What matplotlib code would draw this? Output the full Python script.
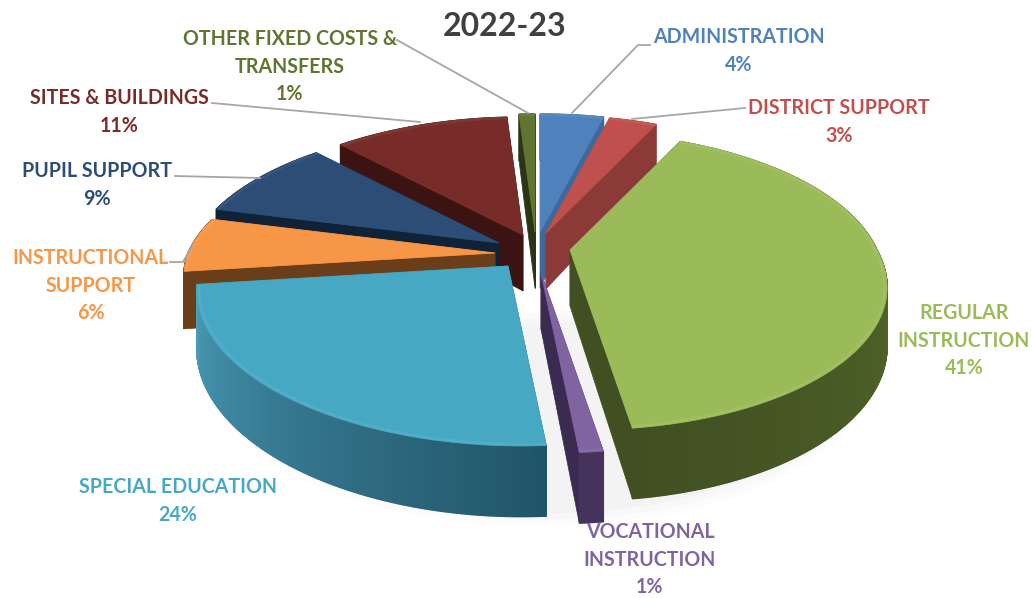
import numpy as np
import matplotlib
matplotlib.use('Agg')
import matplotlib.pyplot as plt
from matplotlib.patches import Polygon

plt.rcParams['font.family'] = ['Lato', 'DejaVu Sans']

# chart data, clockwise from the top
categories = ['ADMINISTRATION', 'DISTRICT SUPPORT', 'REGULAR\nINSTRUCTION', 'VOCATIONAL\nINSTRUCTION',
              'SPECIAL EDUCATION', 'INSTRUCTIONAL\nSUPPORT', 'PUPIL SUPPORT', 'SITES & BUILDINGS',
              'OTHER FIXED COSTS &\nTRANSFERS']
shares = [4, 3, 41, 1, 24, 6, 9, 11, 1]
title = '2022-23'

# styles and layout
top_colors = ['#4f81bd', '#c0504d', '#9bbb59', '#8064a2', '#47a8c4', '#f79646', '#2c4d75', '#772c2a', '#5f7530']
wall_colors = ['#3d6a9b', '#8c3a38', '#414f22', '#3b2b50', '#215468', '#6b3e1a', '#0f2238', '#3a1312', '#2b3516']
side_start = ['#3d6a9b', '#8c3a38', '#5d7a30', '#46335c', '#215468', '#6b3e1a', '#0f2238', '#3a1312', '#2b3516']
side_end = ['#3d6a9b', '#8c3a38', '#414f22', '#46335c', '#4a9db8', '#6b3e1a', '#0f2238', '#3a1312', '#2b3516']
text_colors = ['#4f81bd', '#c0504d', '#9bbb59', '#8064a2', '#47a8c4', '#f79646', '#2c4d75', '#772c2a', '#5f7530']
apex = [(540, 232), (546, 233), (570, 250), (541, 273), (508, 266), (495, 253), (499, 243), (523, 235), (535, 232)]
label_pos = [(739, 35), (839, 106), (964, 311), (650, 530), (178, 485), (91, 256), (97, 169), (119, 96), (290, 37)]
draw_order = [7, 8, 0, 6, 1, 5, 2, 3, 4]
leaders = [[(572, 113), (638, 45), (650, 45)],
           [(632, 119), (745, 108)],
           [(175, 176), (260, 178)],
           [(212, 103), (420, 122)],
           [(397, 40), (528, 113)],
           [(170, 262), (183, 262), (192, 246)]]

RX, RY, PERSP, DEPTH, SKEW = 307, 142.5, 0.208, 56, 14


def project(i, theta, r=1.0, z=0.0):
    # flat disc seen in perspective, z runs down the side of the pie
    x = r * np.sin(theta)
    y = r * np.cos(theta)
    w = 1 / (1 + PERSP * y)
    return apex[i][0] + RX * x * w + SKEW * max(-y, 0), apex[i][1] - RY * y * w + DEPTH * z * w


def mix(c1, c2, t):
    a = np.array(matplotlib.colors.to_rgb(c1))
    b = np.array(matplotlib.colors.to_rgb(c2))
    return tuple(a + (b - a) * t)


fig = plt.figure(figsize=(10.32, 5.98), dpi=100)
ax = fig.add_axes([0, 0, 1, 1])
ax.set_xlim(0, 1032)
ax.set_ylim(598, 0)
ax.axis('off')

edges = np.radians(np.concatenate([[0], np.cumsum(shares)]) / sum(shares) * 360)

# soft shadow under the whole pie
for grow, al in [(14, 0.025), (9, 0.03), (4, 0.04)]:
    th = np.linspace(np.pi * 0.4, np.pi * 1.5, 80)
    xs = [540 + (RX + grow) * np.sin(t) / (1 + PERSP * np.cos(t)) for t in th]
    ys = [262 - RY * np.cos(t) / (1 + PERSP * np.cos(t)) + (DEPTH + grow) * 1.2 for t in th]
    ax.add_patch(Polygon(np.column_stack([xs, ys]), closed=True, fc='#808080', ec='none', alpha=al, zorder=1))

z = 2
for i in draw_order:
    t1, t2 = edges[i], edges[i + 1]
    arc = np.linspace(t1, t2, max(int(np.degrees(t2 - t1)) * 3, 4) + 1)

    # the two cut faces
    for t in (t1, t2):
        wall = [project(i, t, 0), project(i, t, 1), project(i, t, 1, 1), project(i, t, 0, 1)]
        ax.add_patch(Polygon(wall, closed=True, fc=wall_colors[i], ec=wall_colors[i], lw=0.5, zorder=z))
    z += 1

    # rim, one small quad per step so the shade can change along it
    for k in range(len(arc) - 1):
        f = k / max(len(arc) - 2, 1)
        quad = [project(i, arc[k]), project(i, arc[k + 1]), project(i, arc[k + 1], 1, 1), project(i, arc[k], 1, 1)]
        c = mix(side_start[i], side_end[i], f)
        ax.add_patch(Polygon(quad, closed=True, fc=c, ec=c, lw=1, zorder=z))
    z += 1

    top = [project(i, 0, 0)] + [project(i, t) for t in arc]
    ax.add_patch(Polygon(top, closed=True, fc=top_colors[i], ec=top_colors[i], lw=0.6, zorder=z))
    z += 1

    # light bevel round the outer edge
    rim = np.array([project(i, t, 0.993) for t in arc])
    ax.plot(rim[:, 0], rim[:, 1], color=mix(top_colors[i], '#ffffff', 0.12), lw=2, alpha=0.5,
            solid_capstyle='butt', zorder=z)
    z += 1

for pts in leaders:
    pts = np.array(pts)
    ax.plot(pts[:, 0], pts[:, 1], color='#a6a6a6', lw=1.3, zorder=z)

for name, val, pos, col in zip(categories, shares, label_pos, text_colors):
    lines = name.split('\n') + [f'{val}%']
    for n, line in enumerate(lines):
        ax.text(pos[0], pos[1] + 2 + n * 27.6, line, color=col, fontsize=14.1, fontweight='bold',
                ha='center', va='center', zorder=z + 1)

ax.text(505, 26, title, color='#404040', fontsize=23, fontweight='bold', ha='center', va='center', zorder=z + 1)

fig.savefig('out.png', dpi=100)
